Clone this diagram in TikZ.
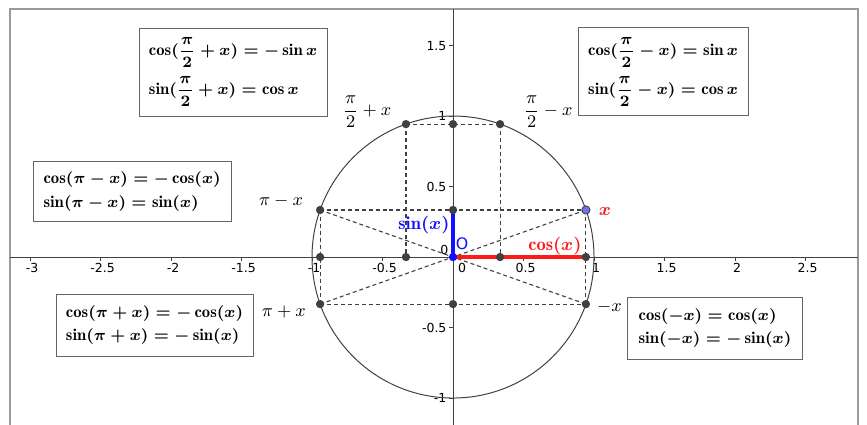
\documentclass[tikz,border=0pt]{standalone}
\usepackage{amsmath,amssymb}
\usepackage{fontspec}
\newfontfamily\ticksfont{DejaVu Sans}
\usepackage{tikz}
\usetikzlibrary{calc}
\definecolor{ggframe}{HTML}{9A9A9A}
\definecolor{ggdark}{HTML}{404040}
\definecolor{ggblue}{HTML}{1010FF}
\definecolor{ggred}{HTML}{FF1A1A}
\definecolor{ggpoint}{HTML}{7070E8}

\begin{document}
\begin{tikzpicture}[
    x=2.5cm, y=2.5cm,
    frm/.style={draw=ggframe, line width=0.9pt},
    axisline/.style={draw=ggdark, line width=0.5pt},
    guide/.style={draw=ggdark, dash pattern=on 2pt off 1.5pt, line width=0.55pt},
    dot/.style={circle, fill=ggdark, inner sep=0pt, minimum size=4.2pt},
    idbox/.style={rectangle, draw=ggdark!80, fill=white, line width=0.45pt, align=left, inner sep=0pt, font=\fontsize{8.4}{10}\selectfont\boldmath, minimum width=#1},
    ticklab/.style={font=\ticksfont\fontsize{6.3}{7}\selectfont, inner sep=1pt},
    anglab/.style={font=\fontsize{9.3}{11}\selectfont, inner sep=0pt},
]
\useasboundingbox (-3.213,-1.191) rectangle (2.936,1.823);

% Frame and axes
\draw[frm] (-3.142,-1.191) -- (-3.142,1.759) -- (2.872,1.759) -- (2.872,-1.191);
\draw[axisline] (-3.142,0) -- (2.872,0);
\draw[axisline] (0,1.759) -- (0,-1.191);

% Ticks
\foreach \t in {-3,-2.5,-2,-1.5,-1,-0.5,0.5,1,1.5,2,2.5} {
    \draw[axisline] (\t,0) -- (\t,-0.028);
    \node[ticklab, anchor=north] at (\t+0.015,-0.03) {\t};
}
\foreach \t in {-1,-0.5,0.5,1,1.5} {
    \draw[axisline] (0,\t) -- (-0.028,\t);
    \node[ticklab, anchor=east] at (-0.03,\t) {\t};
}
\node[ticklab] at (0.064,-0.078) {0};
\node[ticklab] at (-0.062,0.05) {0};

% Points on the circle
\def\xang{19.5}
\coordinate (O) at (0,0);
\coordinate (P) at (\xang:1);
\coordinate (Q) at (180-\xang:1);
\coordinate (R) at (180+\xang:1);
\coordinate (S) at (-\xang:1);
\coordinate (A) at (90+\xang:1);
\coordinate (B) at (90-\xang:1);
\coordinate (Yc) at (O |- A);
\coordinate (Ys) at (O |- P);
\coordinate (Yn) at (O |- S);
\coordinate (Xc) at (P |- O);
\coordinate (Xm) at (Q |- O);
\coordinate (Xa) at (A |- O);
\coordinate (Xb) at (B |- O);

\draw[ggdark, line width=0.5pt] (O) circle (1);

% Dashed guides
\draw[guide] (A) -- (B);
\draw[guide] (A) -- (Xa);
\draw[guide] (B) -- (Xb);
\draw[guide] (Q) -- (P);
\draw[guide] (R) -- (S);
\draw[guide] (Q) -- (R);
\draw[guide] (P) -- (S);
\draw[guide] (Q) -- (S);
\draw[guide] (R) -- (P);

% sin and cos
\draw[ggblue, line width=1.6pt] (O) -- (Ys);
\draw[ggred, line width=1.6pt] (O) -- (Xc);

\foreach \p in {A,B,Yc,Q,Ys,Xm,Xa,Xb,Xc,R,Yn,S}
    \node[dot] (d\p) at (\p) {};
\node[dot, fill=ggblue] (dO) at (O) {};
\node[dot, fill=ggpoint, draw=ggdark, line width=0.4pt] (dP) at (P) {};

% Labels
\node[anglab] (lA) at (-0.61,1.03) {$\dfrac{\pi}{2}+x$};
\node[anglab] (lB) at (0.675,1.03) {$\dfrac{\pi}{2}-x$};
\node[anglab] (lQ) at (-1.22,0.397) {$\pi-x$};
\node[anglab] (lR) at (-1.2,-0.39) {$\pi+x$};
\node[anglab] (lS) at (1.11,-0.355) {$-x$};
\node[anglab, text=ggred, font=\fontsize{9.3}{11}\selectfont\boldmath] (lP) at (1.078,0.326) {$x$};
\node[anglab, text=ggblue, font=\fontsize{9.3}{11}\selectfont\boldmath] (lsin) at (-0.206,0.227) {$\sin(x)$};
\node[anglab, text=ggred, font=\fontsize{9.3}{11}\selectfont\boldmath] (lcos) at (0.723,0.078) {$\cos(x)$};
\node[ticklab, text=ggblue, font=\ticksfont\fontsize{8}{9}\selectfont] (lO) at (0.064,0.092) {O};

% Identity boxes
\node[idbox=3.33cm, minimum height=1.56cm] (b1) at (-1.56,1.312)
    {$\cos(\dfrac{\pi}{2}+x)=-\sin x$\\[3.5pt] $\sin(\dfrac{\pi}{2}+x)=\cos x$};
\node[idbox=3.01cm, minimum height=1.56cm] (b2) at (1.49,1.315)
    {$\cos(\dfrac{\pi}{2}-x)=\sin x$\\[3.5pt] $\sin(\dfrac{\pi}{2}-x)=\cos x$};
\node[idbox=3.51cm, minimum height=1.08cm] (b3) at (-2.276,0.465)
    {$\cos(\pi-x)=-\cos(x)$\\[2pt] $\sin(\pi-x)=\sin(x)$};
\node[idbox=3.49cm, minimum height=1.10cm] (b4) at (-2.117,-0.482)
    {$\cos(\pi+x)=-\cos(x)$\\[2pt] $\sin(\pi+x)=-\sin(x)$};
\node[idbox=3.09cm, minimum height=1.10cm] (b5) at (1.858,-0.504)
    {$\cos(-x)=\cos(x)$\\[2pt] $\sin(-x)=-\sin(x)$};

\end{tikzpicture}
\end{document}
